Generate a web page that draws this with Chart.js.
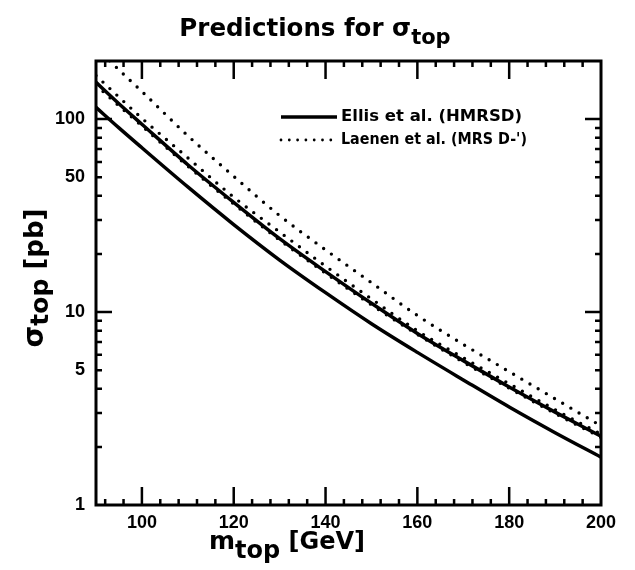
<!DOCTYPE html>
<html><head><meta charset="utf-8">
<script src="https://cdn.jsdelivr.net/npm/chart.js@4"></script>
<style>html,body{margin:0;padding:0;background:#fff}#wrap{width:635px;height:570px;position:relative}</style>
</head><body><div id="wrap"><canvas id="c" width="635" height="570"></canvas></div>
<script>
// ---- data ----
const masses      = [90, 95, 100, 110, 120, 130, 140, 150, 160, 170, 180, 190, 200];
const ellisHigh   = [155, 120, 94, 58, 37, 24, 16.2, 11.1, 7.75, 5.6, 4.09, 3.03, 2.27];
const ellisLow    = [115, 90, 71, 44.5, 28.4, 18.6, 12.6, 8.7, 6.18, 4.45, 3.22, 2.37, 1.77];
const laenenHigh  = [235, 180, 139, 82, 50.5, 31.6, 21, 14.2, 9.6, 6.8, 4.91, 3.55, 2.57];
const laenenMid   = [168, 130, 101, 63, 39.4, 26, 17.3, 11.7, 8.0, 5.8, 4.25, 3.12, 2.33];
const laenenLow   = [150, 117, 92, 57, 36.3, 23.6, 15.9, 10.9, 7.65, 5.5, 4.03, 2.98, 2.24];
const xTickLabels = [100, 120, 140, 160, 180, 200];
const yTickLabels = [1, 5, 10, 50, 100];
const xMinorTicks = [92, 96, 100, 104, 108, 112, 116, 120, 124, 128, 132, 136, 140, 144, 148, 152, 156, 160, 164, 168, 172, 176, 180, 184, 188, 192, 196];
const xMajorTicks = [100, 120, 140, 160, 180];
const yMinorTicks = [2, 3, 4, 5, 6, 7, 8, 9, 20, 30, 40, 50, 60, 70, 80, 90];
const yMajorTicks = [10, 100];
const legendLabels = ['Ellis et al. (HMRSD)', "Laenen et al. (MRS D-')"];

const pts = arr => masses.map((m, i) => ({x: m, y: arr[i]}));
const solid = (label, arr) => ({label, data: pts(arr), borderColor: '#000', borderWidth: 3.5,
  pointRadius: 0, cubicInterpolationMode: 'monotone', clip: 0, fill: false});
const dotted = (label, arr) => ({label, data: pts(arr), borderColor: '#000', borderWidth: 3.4,
  borderDash: [0, 9.5], borderCapStyle: 'round', pointRadius: 0, cubicInterpolationMode: 'monotone', clip: 0, fill: false});

function drawRich(ctx, x, y, parts, align) {
  let w = 0;
  parts.forEach(p => { ctx.font = p.font; w += ctx.measureText(p.text).width; });
  let cx = align === 'center' ? x - w / 2 : x;
  parts.forEach(p => {
    ctx.font = p.font;
    ctx.fillText(p.text, cx, y + (p.dy || 0));
    cx += ctx.measureText(p.text).width;
  });
}

const decor = {
  id: 'decor',
  afterDatasetsDraw(chart) {
    const {ctx, chartArea: a, scales: {x, y}} = chart;
    ctx.save();
    ctx.strokeStyle = '#000';
    ctx.lineWidth = 3;
    ctx.strokeRect(a.left, a.top, a.right - a.left, a.bottom - a.top);
    ctx.lineWidth = 2.5;
    ctx.beginPath();
    xMinorTicks.forEach(v => {
      const len = xMajorTicks.includes(v) ? 18 : 6;
      const px = x.getPixelForValue(v);
      ctx.moveTo(px, a.bottom); ctx.lineTo(px, a.bottom - len);
      ctx.moveTo(px, a.top); ctx.lineTo(px, a.top + len);
    });
    yMinorTicks.concat(yMajorTicks).forEach(v => {
      const len = yMajorTicks.includes(v) ? 16 : 6;
      const py = y.getPixelForValue(v);
      ctx.moveTo(a.left, py); ctx.lineTo(a.left + len, py);
      ctx.moveTo(a.right, py); ctx.lineTo(a.right - len, py);
    });
    ctx.stroke();

    // legend
    const ds = chart.data.datasets;
    const rows = [{d: ds[0], y: 117, w: 182}, {d: ds[2], y: 140, w: 186}];
    rows.forEach((r, i) => {
      ctx.beginPath();
      ctx.lineWidth = r.d.borderDash ? 2.8 : 3.5;
      ctx.lineCap = r.d.borderDash ? 'round' : 'butt';
      ctx.setLineDash(r.d.borderDash ? [0, 8.3] : []);
      ctx.moveTo(281, r.y); ctx.lineTo(337, r.y);
      ctx.stroke();
      ctx.setLineDash([]);
      ctx.fillStyle = '#000';
      ctx.font = 'bold 16.5px "DejaVu Sans"';
      ctx.textBaseline = 'middle';
      ctx.textAlign = 'left';
      ctx.fillText(r.d.label, 341, r.y, r.w);
    });

    // titles
    ctx.textBaseline = 'alphabetic';
    ctx.textAlign = 'left';
    drawRich(ctx, 315, 36, [
      {text: 'Predictions for σ', font: 'bold 24.5px "DejaVu Sans"'},
      {text: 'top', font: 'bold 21px "DejaVu Sans"', dy: 8}
    ], 'center');
    drawRich(ctx, 209, 549, [
      {text: 'm', font: 'bold 25px "DejaVu Sans"'},
      {text: 'top', font: 'bold 24px "DejaVu Sans"', dy: 9},
      {text: ' [GeV]', font: 'bold 24px "DejaVu Sans"'}
    ], 'left');
    ctx.translate(43, 278);
    ctx.rotate(-Math.PI / 2);
    drawRich(ctx, 0, 0, [
      {text: 'σ', font: 'bold 28px "DejaVu Sans"'},
      {text: 'top', font: 'bold 25px "DejaVu Sans"', dy: 5},
      {text: ' [pb]', font: 'bold 26px "DejaVu Sans"'}
    ], 'center');
    ctx.restore();
  }
};

const tickFont = {family: '"Liberation Sans", Arial, sans-serif', weight: 'bold', size: 18};
new Chart(document.getElementById('c'), {
  type: 'line',
  data: {datasets: [
    solid(legendLabels[0], ellisHigh),
    solid(legendLabels[0], ellisLow),
    dotted(legendLabels[1], laenenHigh),
    dotted(legendLabels[1], laenenMid),
    dotted(legendLabels[1], laenenLow)
  ]},
  options: {
    responsive: false, animation: false, events: [],
    layout: {padding: {top: 61, right: 34, left: 0, bottom: 0}},
    plugins: {legend: {display: false}, title: {display: false}, tooltip: {enabled: false}},
    scales: {
      x: {type: 'linear', min: 90, max: 200,
        afterBuildTicks: s => { s.ticks = xTickLabels.map(v => ({value: v})); },
        afterFit: s => { s.height = 65; },
        grid: {display: false, drawTicks: false}, border: {display: false},
        ticks: {font: tickFont, color: '#000', padding: 7, maxRotation: 0, autoSkip: false, callback: v => String(v)}
      },
      y: {type: 'logarithmic', min: 1, max: 200,
        afterBuildTicks: s => { s.ticks = yTickLabels.map(v => ({value: v})); },
        afterFit: s => { s.width = 96; },
        grid: {display: false, drawTicks: false}, border: {display: false},
        ticks: {font: tickFont, color: '#000', padding: 11, autoSkip: false, callback: v => String(v)}
      }
    }
  },
  plugins: [decor]
});
</script></body></html>
